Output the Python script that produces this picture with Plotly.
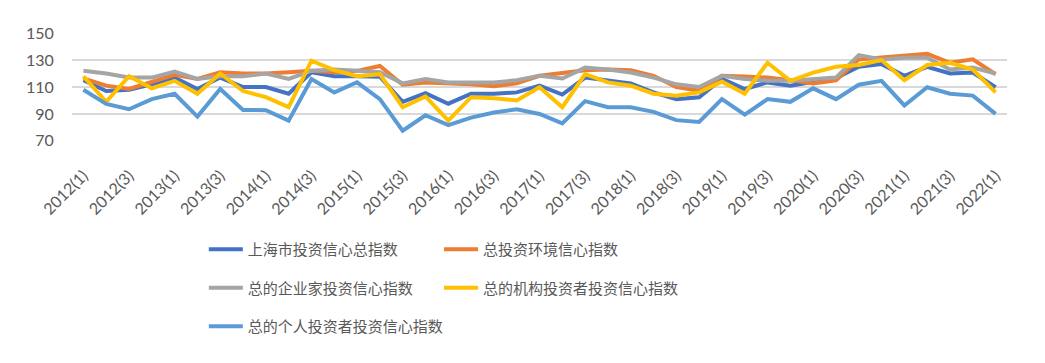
import plotly.graph_objects as go

categories = [
    "2012(1)", "2012(2)", "2012(3)", "2012(4)",
    "2013(1)", "2013(2)", "2013(3)", "2013(4)",
    "2014(1)", "2014(2)", "2014(3)", "2014(4)",
    "2015(1)", "2015(2)", "2015(3)", "2015(4)",
    "2016(1)", "2016(2)", "2016(3)", "2016(4)",
    "2017(1)", "2017(2)", "2017(3)", "2017(4)",
    "2018(1)", "2018(2)", "2018(3)", "2018(4)",
    "2019(1)", "2019(2)", "2019(3)", "2019(4)",
    "2020(1)", "2020(2)", "2020(3)", "2020(4)",
    "2021(1)", "2021(2)", "2021(3)", "2021(4)",
    "2022(1)",
]
tick_labels = categories[::2]

total_index = [115, 107, 108, 112, 117, 108.5, 117, 110, 110, 105,
               121, 118, 118, 117.6, 99, 105.4, 97.6, 105, 105, 106,
               111, 104.4, 117, 114.6, 112.7, 106, 101, 102.4, 116, 108.5,
               113.4, 111, 114, 116.6, 125, 127, 118.3, 125, 120, 120.7,
               109.8]
environment_index = [116.3, 111, 108.5, 113.5, 119, 116, 121, 120, 120, 121,
                     122, 121, 122, 125.6, 111.7, 113.4, 112.7, 112, 110.5, 112.7,
                     118.3, 120, 122.4, 123, 122.4, 118.3, 110, 107.3, 118.3, 117.8,
                     117, 115, 112.7, 115, 130.5, 132, 133.4, 134.6, 128, 130.5,
                     119.5]
entrepreneur_index = [122, 120, 117, 117, 121.5, 116, 118, 118, 120, 116,
                      122, 123, 122, 121, 112.7, 116, 113.4, 113.4, 113.4, 115,
                      118.3, 116.3, 124.4, 123, 120.7, 117, 112, 110, 118.3, 116,
                      114.6, 114.6, 116, 117, 133.7, 130.5, 131.7, 131.7, 123, 124.4,
                      120]
institution_index = [118, 99, 118, 109, 114.6, 105, 120, 107, 102.5, 95,
                     129.5, 122.5, 118, 119.5, 95, 103, 85, 102.4, 101.7, 100,
                     109.8, 95, 119.5, 113.4, 111, 105, 103.6, 106, 114, 105,
                     128, 114.6, 120.7, 125, 126.3, 130, 115, 126.3, 128, 123,
                     106]
individual_index = [108, 97.5, 93.5, 101, 105, 88, 108.5, 93, 92.7, 85,
                    116, 106, 113.5, 101, 77.5, 89, 81.7, 87.3, 91, 93.4,
                    90, 83, 99.5, 95, 95, 91.5, 85.4, 84, 101, 89.5,
                    101, 99, 109, 101, 111.7, 114.6, 96.3, 109.8, 105, 103.6,
                    90]

series = [
    ("上海市投资信心总指数", total_index, "#4472C4", "legend"),
    ("总投资环境信心指数", environment_index, "#ED7D31", "legend2"),
    ("总的企业家投资信心指数", entrepreneur_index, "#A5A5A5", "legend"),
    ("总的机构投资者投资信心指数", institution_index, "#FFC000", "legend2"),
    ("总的个人投资者投资信心指数", individual_index, "#5B9BD5", "legend"),
]

fig = go.Figure()
for i, (name, vals, color, lg) in enumerate(series):
    fig.add_trace(go.Scatter(
        x=categories, y=vals, name=name, mode="lines",
        line=dict(color=color, width=4),
        legend=lg, legendgroup=f"g{i}",
    ))

legend_common = dict(
    orientation="v", xanchor="left", yanchor="top",
    font=dict(family="Noto Sans CJK SC", size=15, color="#595959"),
    bgcolor="rgba(0,0,0,0)", tracegroupgap=16, itemwidth=34,
)

fig.update_layout(
    width=1029, height=347,
    margin=dict(l=64, r=30, t=25, b=212),
    paper_bgcolor="white", plot_bgcolor="white",
    font=dict(family="Lato", color="#595959"),
    legend=dict(x=0.141, y=-0.853, **legend_common),
    legend2=dict(x=0.3925, y=-0.853, **legend_common),
    xaxis=dict(
        type="category", range=[-0.5, 40.5],
        tickmode="array", tickvals=tick_labels, ticktext=tick_labels,
        tickangle=-45, tickfont=dict(family="Lato", size=16, color="#595959"),
        showgrid=False, showline=False, zeroline=False,
        ticks="outside", ticklen=18, tickcolor="rgba(0,0,0,0)",
    ),
    yaxis=dict(
        range=[69.9, 150.1], tickvals=[70, 90, 110, 130, 150],
        tickfont=dict(family="Lato", size=16, color="#595959"),
        showgrid=True, gridcolor="#D9D9D9", gridwidth=1.5,
        zeroline=False, showline=False,
        ticks="outside", ticklen=14, tickcolor="rgba(0,0,0,0)",
    ),
)

fig.write_html("out.html")
